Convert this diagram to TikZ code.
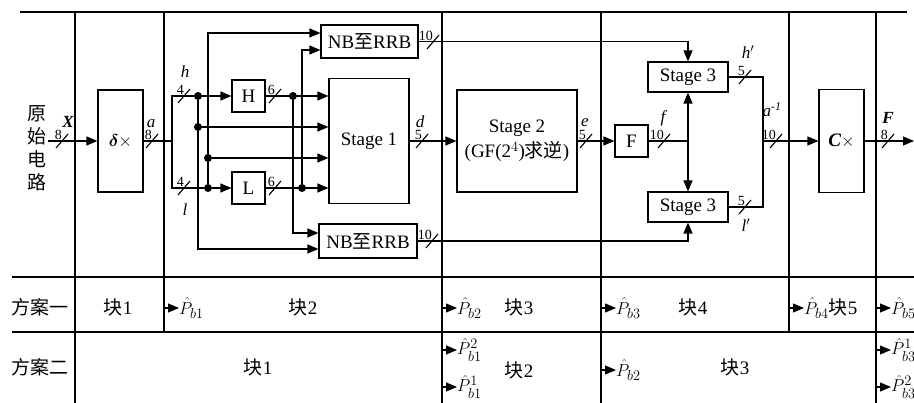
\documentclass[tikz,border=0pt]{standalone}
\usepackage{fontspec}
\setmainfont{Liberation Serif}
\newfontfamily\cjk{Noto Sans CJK SC}
\usepackage{amsmath,bm}
\usetikzlibrary{arrows.meta,positioning,calc}

\tikzset{
  wire/.style={line width=1.1pt},
  arr/.style={wire,-{Triangle[length=11pt,width=9pt]}},
  blk/.style={draw,line width=1.1pt,inner sep=0pt,font=\fontsize{19}{25}\selectfont},
  dot/.style={circle,fill,inner sep=0pt,minimum size=8pt},
  busnum/.style={font=\fontsize{14}{14}\selectfont,anchor=south east,inner sep=0pt},
  lbl/.style={font=\fontsize{17}{17}\selectfont\itshape,inner sep=0pt},
  cell/.style={font=\fontsize{19}{20}\selectfont,inner sep=0pt},
  pb/.style={font=\fontsize{19}{19}\selectfont,anchor=west,inner sep=0pt},
  grid/.style={line width=1.1pt}
}
% slash on a bus, with its width
\newcommand{\busmark}[2]{%
  \draw[wire] ([xshift=-6pt,yshift=-7pt]#1) -- ([xshift=6pt,yshift=7pt]#1);
  \node[busnum] at ([yshift=1pt]#1) {#2};}

\begin{document}
\begin{tikzpicture}[x=1pt,y=-1pt]
\useasboundingbox (0,0) rectangle (914,403);
% table
\draw[grid] (20,12) -- (907,12);
\draw[grid] (12,277) -- (914,277);
\draw[grid] (12,332) -- (914,332);
\foreach \x in {75,442,601,876} \draw[grid] (\x,12) -- (\x,403);
\foreach \x in {164,789} \draw[grid] (\x,12) -- (\x,332);

% blocks
\node[cell,align=center,font=\cjk\fontsize{19}{23}\selectfont] (src) at (37,148) {原\\始\\电\\路};
\node[blk,minimum width=45pt,minimum height=102pt] (delta) at (120.5,141) {$\bm{\delta}\times$};
\node[blk,minimum width=33pt,minimum height=32pt] (H) at (248.5,96) {H};
\node[blk,minimum width=33pt,minimum height=32pt] (L) at (248.5,188) {L};
\node[blk,minimum width=97pt,minimum height=33pt] (nbT) at (369.5,41.5) {NB{\cjk 至}RRB};
\node[blk,minimum width=98pt,minimum height=34pt] (nbB) at (368,241) {NB{\cjk 至}RRB};
\node[blk,minimum width=80pt,minimum height=125pt] (st1) at (369,141) {Stage 1};
\node[blk,minimum width=120pt,minimum height=102pt,align=center] (st2) at (517,141) {Stage 2\\(GF(2$^4$){\cjk 求逆})};
\node[blk,minimum width=33pt,minimum height=32pt] (fb) at (631.5,141) {F};
\node[blk,minimum width=80pt,minimum height=30pt] (st3T) at (688,77) {Stage 3};
\node[blk,minimum width=80pt,minimum height=30pt] (st3B) at (688,207) {Stage 3};
\node[blk,minimum width=45pt,minimum height=103pt] (cb) at (841.5,141) {\textbf{\textit{C}}$\times$};

% joints
\coordinate (in) at (48,141);
\coordinate (sp) at (172,141);
\node[dot] (hd) at (198,96) {};
\node[dot] (hm) at (198,127) {};
\node[dot] (lm) at (208,158) {};
\node[dot] (ld) at (208,188) {};
\node[dot] (hd2) at (293,96) {};
\node[dot] (ld2) at (302,188) {};
\coordinate (fj) at (688,141);
\coordinate (mj) at (763,141);
\coordinate (out) at (914,141);

% wires
\draw[arr] (in) -- (delta);
\draw[wire] (delta) -- (sp);
\draw[wire] (hd) -| (sp) |- (ld);
\draw[arr] (hd) -- (H);
\draw[arr] (ld) -- (L);
\draw[arr] (H) -- (H -| st1.west);
\draw[arr] (hm) -- (hm -| st1.west);
\draw[arr] (lm) -- (lm -| st1.west);
\draw[arr] (L) -- (L -| st1.west);
\draw[arr] (hd) |- ([yshift=-8pt]nbB.west);
\draw[arr] (ld) |- ([yshift=8.5pt]nbT.west);
\draw[arr] (hd2) |- ([yshift=8pt]nbB.west);
\draw[arr] (ld2) |- ([yshift=-8.5pt]nbT.west);
\draw[arr] (st1) -- (st2);
\draw[arr] (st2) -- (fb);
\draw[wire] (fb) -- (fj);
\draw[arr] (fj) -- (st3T);
\draw[arr] (fj) -- (st3B);
\draw[arr] (nbT) -| (st3T);
\draw[arr] (nbB) -| (st3B);
\draw[wire] (st3T) -| (mj);
\draw[wire] (st3B) -| (mj);
\draw[arr] (mj) -- (cb);
\draw[arr] (cb) -- (out);

% bus widths
\busmark{62,141}{8}
\busmark{152,141}{8}
\busmark{184,96}{4}
\busmark{184,188}{4}
\busmark{275,96}{6}
\busmark{275,188}{6}
\busmark{422,141}{5}
\busmark{586,141}{5}
\busmark{433,42}{10}
\busmark{432,241}{10}
\busmark{664,141}{10}
\busmark{745,77}{5}
\busmark{745,207}{5}
\busmark{776,141}{10}
\busmark{888,141}{8}
\node[lbl] (lX) at (68,122) {\textbf{X}};
\node[lbl] (la) at (151,124) {a};
\node[lbl] (lh) at (185,72) {h};
\node[lbl] (ll) at (185,210) {l};
\node[lbl] (ld) at (420,122) {d};
\node[lbl] (le) at (585,123) {e};
\node[lbl] (lf) at (663,118) {f};
\node[lbl] (lhp) at (748,52) {h$'$};
\node[lbl] (llp) at (746,225) {l$'$};
\node[lbl] (lai) at (772,110) {a\textsuperscript{-1}};
\node[lbl] (lF) at (888,118) {\textbf{F}};

% schemes
\node[cell,font=\cjk\fontsize{19}{20}\selectfont] (s1) at (40,307) {方案一};
\node[cell,font=\cjk\fontsize{19}{20}\selectfont] (s2) at (40,367) {方案二};
\node[cell] (a1) at (118,307) {{\cjk 块}1};
\node[cell] (a2) at (303,307) {{\cjk 块}2};
\node[cell] (a3) at (519,307) {{\cjk 块}3};
\node[cell] (a4) at (693,307) {{\cjk 块}4};
\node[cell] (a5) at (843,307) {{\cjk 块}5};
\node[cell] (b1) at (258,367) {{\cjk 块}1};
\node[cell] (b2) at (519,370) {{\cjk 块}2};
\node[cell] (b3) at (735,367) {{\cjk 块}3};
\foreach \x/\y/\t [count=\i] in {164/308/{_{b1}}, 442/308/{_{b2}}, 601/308/{_{b3}}, 789/308/{_{b4}},
    876/308/{_{b5}}, 442/350/{^{2}_{b1}}, 442/387/{^{1}_{b1}}, 601/370/{_{b2}},
    876/350/{^{1}_{b3}}, 876/387/{^{2}_{b3}}} {
  \coordinate (pa\i) at (\x,\y);
  \node[pb,right=15pt of pa\i] (pb\i) {$\hat{P}\t$};
  \draw[arr] (pa\i) -- (pb\i);
}
\end{tikzpicture}
\end{document}
